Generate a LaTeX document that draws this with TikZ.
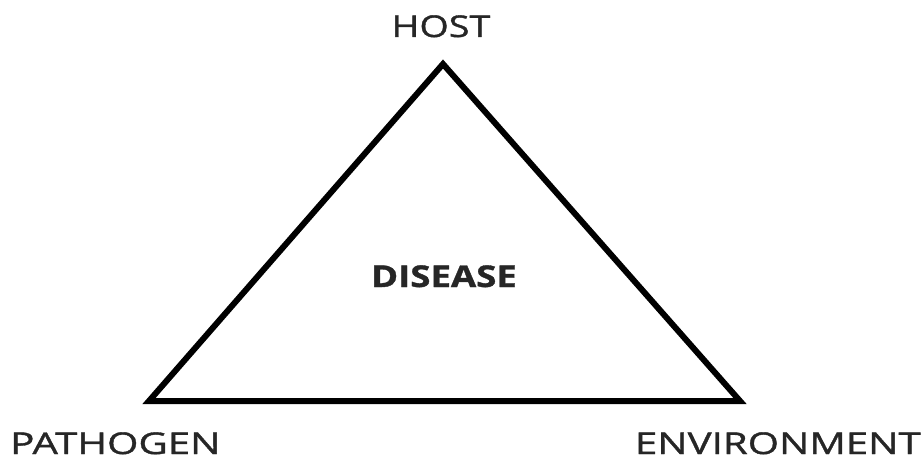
\documentclass[tikz,border=0pt]{standalone}
\usepackage{fontspec}
\setmainfont[FakeStretch=1.22,FakeBold=1.2]{Open Sans}
\begin{document}
\begin{tikzpicture}[x=1pt,y=-1pt,
  lbl/.style={inner sep=0pt,text depth=0pt,font=\fontsize{30}{32}\selectfont,text=black!85},
  edge/.style={line width=6pt,line join=miter}]
\useasboundingbox (0,0) rectangle (924,460);
\coordinate (host) at (443,64);
\coordinate (path) at (149,401);
\coordinate (env) at (740,401);
\draw[edge] (host) -- (path) -- (env) -- cycle;
\node[lbl,anchor=base] (hl) at (441,37) {\scalebox{1.03}[1]{HOST}};
\node[lbl,anchor=base west] (pl) at (10,454) {\scalebox{1.1}[1]{PATHOGEN}};
\node[lbl,anchor=base east] (el) at (921,454) {\scalebox{1.1}[1]{ENVIRONMENT}};
\node[lbl,anchor=base,font=\fontsize{30}{32}\selectfont\bfseries,text=black!85] (dl) at (444,287) {DISEASE};
\end{tikzpicture}
\end{document}
